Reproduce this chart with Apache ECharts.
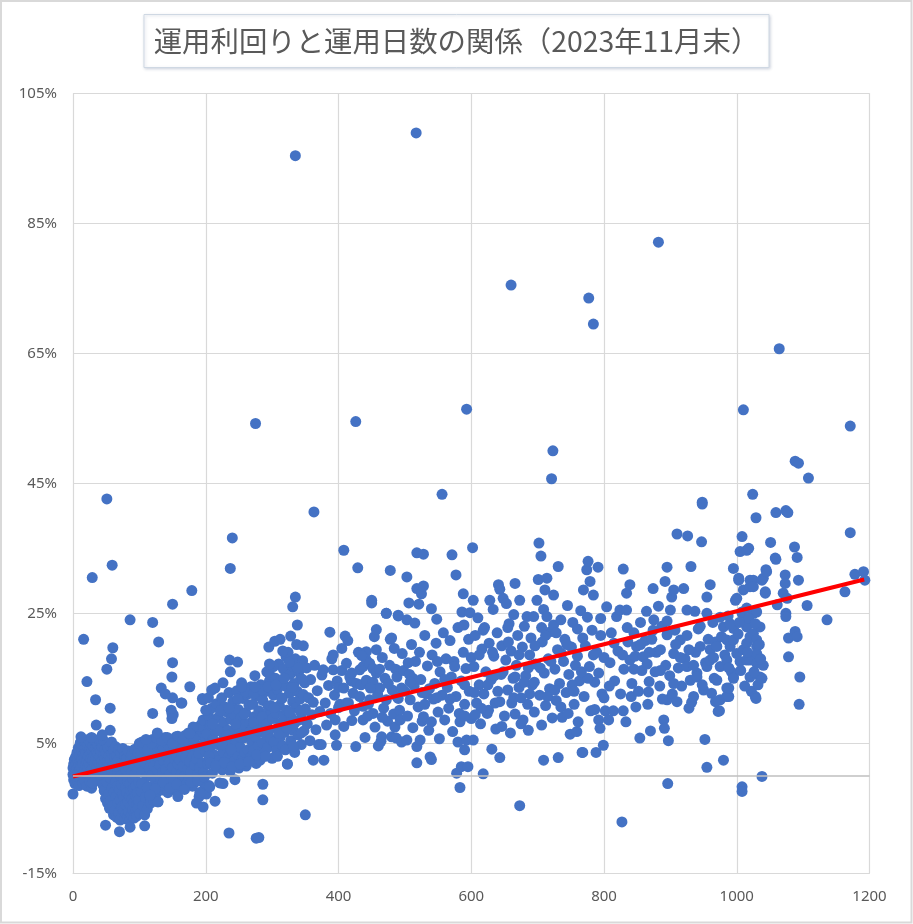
<!DOCTYPE html>
<html>
<head>
<meta charset="utf-8">
<script src="https://cdn.jsdelivr.net/npm/echarts@6/dist/echarts.min.js"></script>
<style>
html, body { margin: 0; padding: 0; background: #fff; }
#chart { width: 913px; height: 924px; }
</style>
</head>
<body>
<div id="chart"></div>
<script>
const chartTitle = '運用利回りと運用日数の関係（2023年11月末）';
const xTicks = [0, 200, 400, 600, 800, 1000, 1200];
const yTicks = [-15, 5, 25, 45, 65, 85, 105];

// [運用日数, 運用利回り(%)]
const pts0to100 = [
  [0,1.2],[0,0.2],[0,-2.8],[1,1.8],[1,-0.6],[2,2.5],[2,0.8],[3,-1.2],[3,1.5],[4,2.9],[4,0.4],[5,-0.3],[5,1.9],[6,3.6],[6,1.1],
  [7,-0.9],[7,2.4],[8,0.6],[8,4.3],[9,1.7],[9,-1.5],[10,3.1],[10,0.9],[11,2.2],[11,5.1],[12,-0.4],[12,1.4],[13,3.8],[13,2.6],
  [14,0.2],[14,4.7],[15,1.9],[15,-1.1],[16,3.3],[16,5.4],[17,0.7],[17,2.8],[18,4.1],[18,-0.7],[19,1.6],[19,3.5],[20,5.2],[20,0.4],
  [21,2.3],[21,-1.6],[22,4.5],[22,1.2],[23,3.0],[23,5.6],[24,0.1],[24,2.0],[25,4.0],[25,-0.9],[26,1.5],[26,3.4],[27,5.0],[27,2.6],
  [28,0.8],[28,-1.9],[29,3.9],[29,1.1],[30,4.6],[30,2.4],[30,-1.1],[31,0.3],[32,3.1],[32,5.5],[33,1.8],[33,-0.6],[34,4.2],[34,2.7],
  [35,0.9],[35,5.3],[36,3.6],[36,1.4],[37,-0.2],[37,4.8],[38,2.1],[38,3.3],[39,0.6],[39,5.6],[40,1.8],[40,4.1],[41,-0.8],[41,2.9],
  [42,3.8],[42,0.2],[43,5.1],[43,1.6],[44,2.4],[44,4.4],[45,-1.4],[45,0.9],[46,3.2],[46,5.4],[47,1.9],[47,-2.3],[48,4.0],[48,2.7],
  [49,0.4],[49,-3.5],[50,3.5],[50,1.2],[51,5.0],[51,-1.0],[52,2.2],[52,-4.2],[53,4.3],[53,0.6],[54,-2.8],[54,3.0],[55,1.7],[55,-5.0],
  [56,4.6],[56,-0.3],[57,2.5],[57,-3.8],[58,0.8],[58,5.2],[59,-1.8],[59,3.4],[60,-4.6],[60,1.5],[61,-6.0],[61,3.9],[62,-2.5],[62,0.2],
  [63,2.8],[63,-5.4],[64,-0.9],[64,4.5],[65,-3.2],[65,1.9],[66,-6.4],[66,3.1],[67,-1.6],[67,0.6],[68,-4.1],[68,2.4],[69,-5.7],[69,4.0],
  [70,-2.1],[70,1.1],[71,-3.7],[71,-6.8],[72,3.5],[72,0.0],[73,-4.9],[73,-1.3],[74,2.0],[74,-6.1],[75,-2.9],[75,4.2],[76,-0.5],[76,-5.3],
  [77,1.6],[77,-3.4],[78,-6.6],[78,3.0],[79,-1.9],[79,-4.4],[80,0.9],[80,-5.9],[81,2.7],[81,-2.6],[82,-6.3],[82,-0.8],[83,-4.0],[83,3.8],
  [84,-5.5],[84,1.3],[85,-3.1],[85,-6.9],[86,-1.2],[86,2.2],[87,-4.7],[87,-2.3],[88,-6.0],[88,0.5],[89,-3.6],[89,3.3],[90,-5.2],[90,-0.4],
  [91,-2.0],[91,1.8],[92,-6.5],[92,-4.1],[93,0.2],[93,4.1],[94,-3.0],[94,-5.6],[95,-1.5],[95,2.6],[96,-4.5],[96,-6.2],[97,0.8],[97,-2.7],
  [98,3.5],[98,-5.0],[99,-1.0],[99,-3.8],[100,1.9],[100,5.0],
  [29,-1.1],[49,-7.6],[70,-8.6],[86,-7.9],[56,10.4],[35,7.8],[56,7.0],[16,21.0],[21,14.5],[29,30.5],[51,42.6],[59,32.4],[34,11.7],
  [51,16.4],[60,19.7],[58,18.0],[86,24.0],[28,5.9],[12,6.0],[44,6.3]
];

const pts100to200 = [
  [101,-5.8],[102,3.2],[103,-2.4],[104,0.6],[105,-4.6],[106,4.4],[107,-1.1],[108,-6.0],[108,2.0],[109,-3.3],[110,5.3],[111,-0.2],
  [112,-5.1],[113,3.0],[114,-2.0],[115,1.2],[116,-3.2],[116,4.8],[117,-4.2],[118,0.0],[119,2.6],[120,-1.6],[120,5.6],[121,-3.7],
  [122,1.5],[123,3.8],[124,-0.6],[125,-2.8],[126,4.5],[127,0.9],[128,-4.0],[128,2.9],[129,-1.3],[130,5.2],[131,1.7],[132,-0.9],
  [133,3.5],[134,-2.2],[135,0.5],[136,4.3],[137,2.3],[138,-1.6],[139,5.9],[140,1.0],[141,3.1],[142,-0.3],[143,-2.6],[144,4.7],
  [145,2.0],[146,0.2],[147,5.5],[148,-1.4],[149,3.4],[150,1.3],[151,-0.7],[152,4.1],[153,2.6],[154,-2.0],[155,6.0],[156,0.7],
  [157,3.0],[158,-3.2],[158,1.8],[159,4.9],[160,-0.9],[161,2.4],[162,5.7],[163,0.3],[164,3.7],[165,-1.8],[166,1.5],[167,4.4],
  [168,-0.1],[169,6.2],[170,2.8],[171,-1.2],[172,3.9],[173,1.0],[174,5.3],[175,-0.5],[176,2.2],[177,6.6],[178,0.6],[179,4.2],
  [180,-1.6],[181,3.1],[182,7.0],[183,1.7],[184,5.0],[185,-0.8],[186,-4.2],[186,2.6],[187,7.4],[188,0.2],[189,4.6],[190,-3.2],
  [190,3.4],[191,1.2],[192,6.3],[193,-2.5],[194,8.0],[195,2.0],[196,4.8],[197,0.5],[198,7.2],[199,-1.4],[200,3.7],[200,5.9],
  [104,5.2],[112,4.0],[118,5.0],[126,5.8],[134,5.4],[142,5.9],[150,5.0],[158,6.1],[166,5.6],[174,6.6],[182,5.8],[190,7.6],[196,8.6],
  [104,-1.2],[112,-1.8],[124,-2.0],[136,-1.0],[146,-1.9],[156,-1.3],[168,-2.1],[178,-1.0],[188,-0.8],[198,-0.2],
  [120,9.6],[127,6.6],[151,9.4],[148,10.1],[163,11.2],[181,7.5],[176,6.5],[196,11.7],[150,12.0],[133,13.5],[139,12.6],[164,11.2],
  [149,9.6],[149,8.8],[120,23.6],[129,20.6],[150,26.4],[179,28.5],[150,17.4],[149,15.2],[176,13.7],[195,11.9],[110,5.6],
  [108,-7.7],[128,-4.0],[116,-3.0]
];

const pts200to300 = [
  [201,-2.8],[202,6.4],[203,1.8],[204,9.3],[205,-1.5],[206,4.2],[207,7.8],[208,2.6],[209,10.4],[210,0.4],[211,5.6],[212,8.6],
  [213,3.2],[214,-3.9],[215,6.8],[216,11.1],[217,1.3],[218,4.8],[219,9.0],[220,2.4],[221,-1.1],[222,7.3],[223,5.2],[224,12.0],
  [225,0.9],[226,3.7],[227,8.2],[228,6.1],[229,10.6],[230,1.9],[231,4.5],[232,9.8],[233,7.0],[234,2.9],[235,12.8],[236,5.5],
  [237,0.7],[238,8.7],[239,3.8],[240,6.6],[241,11.4],[242,2.2],[243,9.4],[244,-0.6],[245,5.0],[246,7.6],[247,13.1],[248,3.3],
  [249,10.2],[250,1.2],[251,6.9],[252,4.4],[253,8.9],[254,14.3],[255,2.6],[256,11.9],[257,5.8],[258,7.9],[259,3.6],[260,9.7],
  [261,1.5],[262,12.5],[263,6.2],[264,4.0],[265,10.9],[266,8.1],[267,2.8],[268,13.7],[269,5.3],[270,7.2],[271,11.0],[272,3.9],
  [273,9.1],[274,15.4],[275,6.0],[276,1.9],[277,8.4],[278,12.3],[279,4.6],[280,10.0],[281,6.8],[282,2.4],[283,14.0],[284,7.7],
  [285,5.1],[286,-1.3],[286,11.6],[287,9.3],[288,3.4],[289,12.9],[290,6.4],[291,8.6],[292,16.0],[293,4.3],[294,10.7],[295,19.8],
  [296,7.1],[297,13.4],[298,5.7],[299,9.9],[300,2.7],
  [205,3.0],[212,5.4],[218,7.0],[225,4.8],[232,6.2],[238,4.1],[245,8.0],[252,6.0],[258,9.5],[265,6.6],[272,8.2],[278,7.0],
  [285,9.0],[292,8.0],[298,10.8],[210,8.0],[222,10.0],[235,10.4],[248,11.8],[260,12.9],[272,12.6],[285,13.2],[296,14.6],
  [207,2.0],[215,1.6],[228,2.1],[240,1.4],[252,1.8],[265,2.2],[277,3.2],[290,3.0],[200,10.1],[204,12.0],[209,13.2],[214,13.5],
  [226,14.3],[254,13.7],[274,13.7],[294,13.7],
  [236,17.8],[248,17.5],[237,16.0],[296,15.7],[237,31.9],[240,36.6],[275,54.2],
  [206,-1.7],[226,-1.2],[235,-8.8],[276,-9.6],[280,-9.5],[286,-3.7],[191,-2.6],[196,-4.8]
];

const pts300to400 = [
  [301,8.8],[302,12.4],[303,5.2],[304,20.7],[305,15.0],[306,9.6],[307,3.9],[308,13.3],[309,7.4],[310,17.2],[311,10.8],[312,5.9],
  [313,14.6],[314,8.2],[315,11.9],[316,4.6],[317,16.4],[318,9.3],[319,6.7],[320,13.8],[321,18.3],[322,10.1],[323,1.8],[324,19.0],
  [325,7.9],[326,12.7],[327,15.6],[328,5.4],[329,9.0],[330,16.9],[331,26.0],[331,11.4],[332,7.0],[333,14.2],[334,3.6],[335,27.5],
  [335,18.0],[336,10.5],[337,20.2],[338,23.2],[338,13.0],[339,6.3],[340,16.0],[341,8.6],[342,11.8],[343,15.0],[344,4.8],[345,9.7],
  [346,17.7],[347,20.0],[347,12.5],[348,6.9],[349,14.3],[350,-6.0],[350,10.3],[352,16.6],[353,8.0],[355,12.0],[357,5.4],[358,14.8],
  [360,9.4],[362,2.4],[362,11.3],[364,17.0],[366,7.1],[368,13.1],[370,4.8],[372,9.9],[374,4.8],[375,15.5],[377,16.3],[378,2.4],
  [380,11.2],[382,7.8],[385,13.9],[387,22.1],[388,9.6],[390,18.0],[392,16.3],[392,18.6],[394,12.4],[395,6.3],[395,8.6],[397,4.7],
  [398,14.6],[400,13.6],[400,10.5],
  [303,10.5],[306,14.0],[310,6.5],[314,12.0],[318,15.0],[322,7.4],[326,9.8],[330,13.6],[334,8.1],[338,16.6],[342,10.0],[346,14.8],
  [302,16.8],[316,19.2],[326,17.5],[308,3.0],[320,4.0],[332,4.6],[344,6.6],[296,17.2],[312,21.0],[328,21.5],
  [335,95.4],[363,40.6],[323,1.8]
];

const pts400to600 = [
  [402,11.0],[405,16.2],[408,7.6],[410,21.5],[412,17.3],[412,11.2],[414,20.8],[415,11.2],[417,15.2],[419,14.6],[420,8.5],[422,12.7],
  [426,4.5],[427,14.2],[429,32.0],[430,19.0],[432,12.2],[432,16.3],[434,14.0],[437,8.6],[437,16.8],[437,10.7],[440,5.9],[442,14.7],
  [442,19.1],[442,17.8],[445,11.0],[447,17.3],[447,11.7],[450,26.6],[452,14.4],[452,9.6],[452,16.5],[454,21.4],[455,7.5],[457,22.5],
  [457,19.4],[457,15.8],[459,12.5],[460,4.6],[462,13.5],[464,5.3],[465,6.0],[466,18.2],[468,10.4],[470,15.0],[472,25.0],[472,11.7],
  [474,8.4],[477,17.0],[478,21.0],[478,31.6],[480,21.2],[480,6.0],[481,13.2],[483,9.5],[485,7.5],[486,16.4],[487,5.8],[488,15.2],
  [490,24.6],[490,11.9],[492,10.1],[493,8.6],[495,5.2],[496,18.8],[498,16.2],[500,13.0],[503,30.6],[503,24.0],[503,5.5],[504,9.2],
  [506,26.6],[507,15.6],[508,11.7],[510,20.2],[512,7.4],[514,13.8],[515,23.5],[516,17.6],[518,34.3],[518,28.8],[518,4.5],[518,2.0],
  [520,10.6],[521,26.4],[522,19.0],[523,5.5],[524,14.8],[525,28.0],[526,8.4],[528,34.1],[528,29.2],[528,9.1],[530,21.6],[532,12.6],
  [534,16.9],[536,7.0],[538,2.9],[540,25.7],[540,2.5],[540,8.3],[541,18.6],[543,11.8],[545,14.2],[547,20.4],[548,24.1],[550,9.8],
  [552,5.7],[553,16.0],[556,43.3],[556,12.4],[558,22.0],[560,8.6],[562,18.0],[564,13.6],[566,10.4],[568,20.8],[570,15.2],[571,34.0],
  [572,6.8],[574,17.6],[577,30.9],[577,12.2],[578,0.4],[580,5.2],[580,22.8],[582,9.6],[583,8.3],[583,-1.8],[585,1.4],[585,14.6],
  [586,25.2],[588,28.0],[588,19.0],[589,23.2],[590,4.0],[590,11.0],[592,16.5],[593,5.5],[593,56.4],[595,1.4],[596,21.0],[597,13.0],
  [598,25.1],[600,8.8],[600,18.2],
  [405,19.6],[420,15.8],[435,18.5],[448,13.5],[462,16.4],[475,14.2],[484,19.6],[495,13.5],[505,17.4],[512,15.0],[526,12.8],[537,13.4],
  [549,17.6],[560,14.8],[575,16.8],[590,14.0],[408,13.5],[424,10.0],[444,9.2],[466,9.0],[488,12.2],[508,14.4],[530,11.0],[548,12.0],
  [568,11.8],[590,9.2],
  [426,54.5],[408,34.7],[517,98.9],[472,25.0],[490,24.7],[450,27.0]
];

const pts600to800 = [
  [602,35.1],[603,27.0],[603,5.5],[604,16.8],[606,21.6],[608,11.2],[610,24.3],[612,14.0],[614,8.0],[616,19.5],[618,0.3],[619,12.6],
  [620,22.8],[622,16.0],[624,9.6],[626,10.1],[627,20.4],[628,27.0],[630,14.8],[631,4.1],[633,25.6],[634,18.4],[636,11.2],[637,7.2],
  [639,22.0],[641,29.4],[643,28.7],[643,11.4],[643,2.8],[645,15.6],[646,20.0],[648,27.3],[650,9.2],[652,17.8],[653,26.5],[655,13.2],
  [657,23.4],[659,6.6],[660,75.5],[660,19.2],[661,11.2],[663,15.0],[664,24.8],[666,29.6],[666,9.5],[668,17.0],[670,21.6],[672,13.6],
  [673,27.0],[673,-4.6],[675,8.0],[677,19.8],[678,8.6],[680,23.0],[682,15.4],[684,24.5],[685,11.0],[686,7.0],[688,18.6],[690,21.2],
  [692,14.0],[694,24.5],[695,9.8],[697,17.2],[699,27.0],[701,30.2],[702,35.8],[703,12.4],[705,33.8],[706,7.8],[707,20.6],[709,25.6],
  [709,2.4],[710,15.8],[711,28.6],[712,10.8],[714,30.4],[714,24.5],[716,18.0],[718,13.4],[720,22.2],[721,45.7],[722,8.9],[723,50.0],
  [724,27.8],[724,23.2],[726,16.4],[728,11.6],[730,19.4],[731,32.2],[731,2.8],[733,14.2],[735,24.0],[737,9.0],[739,17.6],[741,21.0],
  [743,12.8],[745,26.2],[747,15.6],[749,6.4],[751,19.8],[753,23.6],[755,11.0],[757,17.0],[759,6.8],[760,22.6],[761,8.3],[763,14.6],
  [765,25.4],[767,3.6],[768,3.6],[769,28.6],[770,12.2],[772,20.0],[774,31.7],[776,33.0],[777,73.5],[778,16.8],[779,29.9],[780,10.0],
  [782,22.4],[784,27.8],[784,69.5],[786,14.4],[788,3.6],[789,19.0],[791,32.1],[792,8.6],[794,7.3],[795,24.2],[797,12.6],[799,4.7],
  [800,18.2],
  [605,12.8],[612,18.6],[618,22.4],[625,14.0],[632,19.0],[640,13.0],[648,16.0],[656,20.6],[664,12.0],[672,18.6],[680,14.4],[688,12.6],
  [696,20.0],[704,16.6],[712,21.6],[720,17.6],[728,22.0],[736,18.8],[744,20.2],[752,14.0],[760,18.4],[768,21.2],[776,15.0],[784,18.6],
  [792,15.8],[800,12.0],[615,10.4],[635,15.4],[655,22.8],[675,12.0],[695,14.4],[715,12.2],[735,10.6],[755,13.0],[775,24.4],[795,21.6],
  [606,9.4],[646,7.6],[666,15.2],[686,16.6],[706,22.8],[726,13.2],[746,9.6],[766,16.0],[786,10.2]
];

const pts800to1000 = [
  [802,10.0],[804,26.0],[807,8.6],[809,17.4],[811,22.0],[814,10.0],[816,14.6],[819,24.5],[821,19.2],[824,25.5],[827,-7.1],[829,31.8],
  [829,10.0],[830,16.4],[833,8.3],[834,25.5],[834,28.1],[836,20.6],[839,29.4],[839,17.8],[841,12.2],[842,14.2],[845,22.0],[847,18.4],
  [849,19.9],[852,13.0],[854,5.8],[855,23.6],[857,16.2],[859,18.3],[862,20.8],[864,25.3],[866,11.0],[867,12.9],[868,14.5],[870,6.9],
  [872,21.0],[874,22.4],[874,28.8],[877,16.0],[879,19.0],[882,82.1],[882,26.1],[884,13.8],[885,19.4],[887,23.0],[890,8.6],[891,7.3],
  [892,29.9],[893,17.0],[895,21.7],[895,11.7],[895,32.1],[896,-1.2],[897,5.4],[899,15.4],[900,25.5],[902,27.5],[903,12.6],[905,28.6],
  [905,18.8],[907,22.4],[910,11.4],[910,37.2],[912,16.6],[915,20.9],[917,13.8],[920,28.8],[922,18.0],[925,16.8],[925,25.5],[926,36.9],
  [928,10.4],[930,14.7],[931,32.2],[932,11.3],[935,12.2],[937,25.3],[938,19.0],[940,15.8],[940,15.2],[942,22.6],[945,19.9],[947,36.0],
  [948,42.1],[948,41.8],[950,13.2],[952,5.6],[953,17.4],[955,27.5],[955,25.0],[955,1.3],[955,16.8],[957,21.0],[960,29.4],[960,19.4],
  [960,17.8],[962,12.7],[964,23.6],[966,15.0],[968,20.6],[970,19.9],[970,14.7],[972,9.9],[974,10.0],[975,16.8],[975,11.7],[977,21.4],
  [980,22.9],[980,2.4],[982,18.6],[985,20.9],[985,13.5],[985,17.8],[985,12.2],[987,24.6],[988,12.2],[988,13.5],[990,19.9],[992,16.0],
  [995,31.9],[995,22.7],[995,20.9],[995,15.2],[995,15.0],[998,27.0],[1000,27.3],[1000,18.8],
  [815,20.4],[825,12.6],[835,22.8],[845,16.4],[855,20.2],[865,17.2],[875,24.0],[885,16.2],[895,23.8],[905,14.2],[915,18.2],[925,21.6],
  [935,17.0],[945,23.0],[965,18.2],[975,24.4],[990,23.4],[808,13.8],[828,18.6],[848,10.6],[868,19.0],[888,11.8],[908,20.2],[928,19.4],
  [948,14.0],[968,11.4],[988,16.6]
];

const pts1000to1200 = [
  [1003,30.1],[1003,30.4],[1005,17.6],[1005,34.5],[1008,36.8],[1008,25.2],[1008,25.0],[1008,-1.7],[1008,-2.4],[1010,28.6],[1010,19.4],
  [1010,56.3],[1013,23.5],[1015,25.8],[1015,20.4],[1015,17.8],[1015,22.9],[1015,34.7],[1018,35.0],[1020,29.1],[1020,30.1],[1020,21.4],
  [1020,17.8],[1020,15.2],[1022,13.0],[1024,43.3],[1025,30.1],[1025,29.1],[1025,21.9],[1025,25.0],[1028,12.2],[1029,39.7],[1029,11.9],
  [1030,25.2],[1030,20.9],[1030,19.9],[1030,17.3],[1030,18.8],[1032,14.0],[1035,22.9],[1035,15.2],[1038,15.0],[1038,30.1],[1038,-0.1],
  [1040,30.4],[1043,28.1],[1043,28.3],[1044,31.7],[1045,31.4],[1051,35.9],[1058,33.5],[1059,33.3],[1059,40.5],[1061,26.3],[1064,65.7],
  [1070,28.1],[1073,30.9],[1073,29.6],[1074,25.0],[1074,24.5],[1074,40.8],[1076,27.3],[1077,40.5],[1078,21.2],[1078,18.3],[1087,35.2],
  [1088,22.2],[1088,48.4],[1091,33.6],[1091,21.4],[1093,30.1],[1093,48.1],[1094,11.0],[1095,15.2],[1106,26.2],[1108,45.8],[1136,24.0],
  [1163,28.3],[1171,37.4],[1171,53.8],[1178,31.0],[1191,31.4],[1193,30.1],
  [1002,21.8],[1006,16.2],[1012,13.8],[1018,24.2],[1026,16.0],[1034,20.2],[1040,17.0],[1004,23.6],[1016,19.0],[1028,23.4],[1036,18.0]
];

// 近似直線の両端
const trendDays = [0, 1192];
const trendReturns = [-0.1, 30.2];

const points = [].concat(pts0to100, pts100to200, pts200to300, pts300to400,
  pts400to600, pts600to800, pts800to1000, pts1000to1200);
const trendData = trendDays.map((d, i) => [d, trendReturns[i]]);

const yMin = yTicks[0];
const yMax = yTicks[yTicks.length - 1];
const yStep = yTicks[1] - yTicks[0];

const chart = echarts.init(document.getElementById('chart'));

chart.setOption({
  animation: false,
  backgroundColor: '#fff',
  title: {
    text: chartTitle,
    left: 'center',
    top: 14,
    padding: [9, 10, 9, 10],
    borderColor: '#cfd8e3',
    borderWidth: 1,
    backgroundColor: '#fff',
    shadowColor: 'rgba(80,100,140,0.25)',
    shadowBlur: 3,
    shadowOffsetX: 1,
    shadowOffsetY: 1,
    textStyle: {
      color: '#595959',
      fontSize: 28.4,
      lineHeight: 36,
      fontWeight: 'normal',
      fontFamily: '"Noto Sans CJK JP", sans-serif'
    }
  },
  graphic: [{
    type: 'rect',
    shape: { x: 1, y: 1, width: 910.5, height: 921.5 },
    style: { fill: 'none', stroke: '#d9d9d9', lineWidth: 2 },
    silent: true
  }],
  grid: {
    left: 73,
    right: 43.5,
    top: 93.3,
    bottom: 50.7
  },
  xAxis: {
    type: 'value',
    min: xTicks[0],
    max: xTicks[xTicks.length - 1],
    interval: xTicks[1] - xTicks[0],
    axisLine: { show: true, onZero: false, lineStyle: { color: '#d9d9d9' } },
    axisTick: { show: false },
    axisLabel: {
      color: '#595959',
      fontSize: 15,
      margin: 16,
      fontFamily: '"Noto Sans", sans-serif',
      formatter: v => String(v)
    },
    splitLine: { show: true, lineStyle: { color: '#d9d9d9', width: 1.2 } }
  },
  yAxis: [{
    // data axis
    type: 'value',
    min: yMin,
    max: yMax,
    show: false,
    splitLine: { show: false }
  }, {
    // label / grid axis, counted from 0 so the ticks land on -15, 5, 25 ...
    type: 'value',
    min: 0,
    max: yMax - yMin,
    interval: yStep,
    position: 'left',
    axisLine: { show: false },
    axisTick: { show: false },
    axisLabel: {
      color: '#595959',
      fontSize: 15,
      margin: 16,
      fontFamily: '"Noto Sans", sans-serif',
      formatter: v => yTicks[Math.round(v / yStep)] + '%'
    },
    splitLine: { show: true, lineStyle: { color: '#d9d9d9', width: 1.2 } }
  }],
  series: [{
    type: 'scatter',
    yAxisIndex: 0,
    data: [],
    z: 1,
    markLine: {
      silent: true,
      symbol: 'none',
      label: { show: false },
      lineStyle: { color: '#bfbfbf', type: 'solid', width: 1.5 },
      data: [{ yAxis: 0 }]
    }
  }, {
    name: '運用利回り',
    type: 'scatter',
    yAxisIndex: 0,
    z: 2,
    symbolSize: 11,
    itemStyle: { color: '#4472c4', opacity: 1 },
    data: points
  }, {
    name: '近似直線',
    type: 'line',
    yAxisIndex: 0,
    z: 3,
    symbol: 'none',
    lineStyle: { color: '#ff0000', width: 4 },
    data: trendData
  }]
});
</script>
</body>
</html>
